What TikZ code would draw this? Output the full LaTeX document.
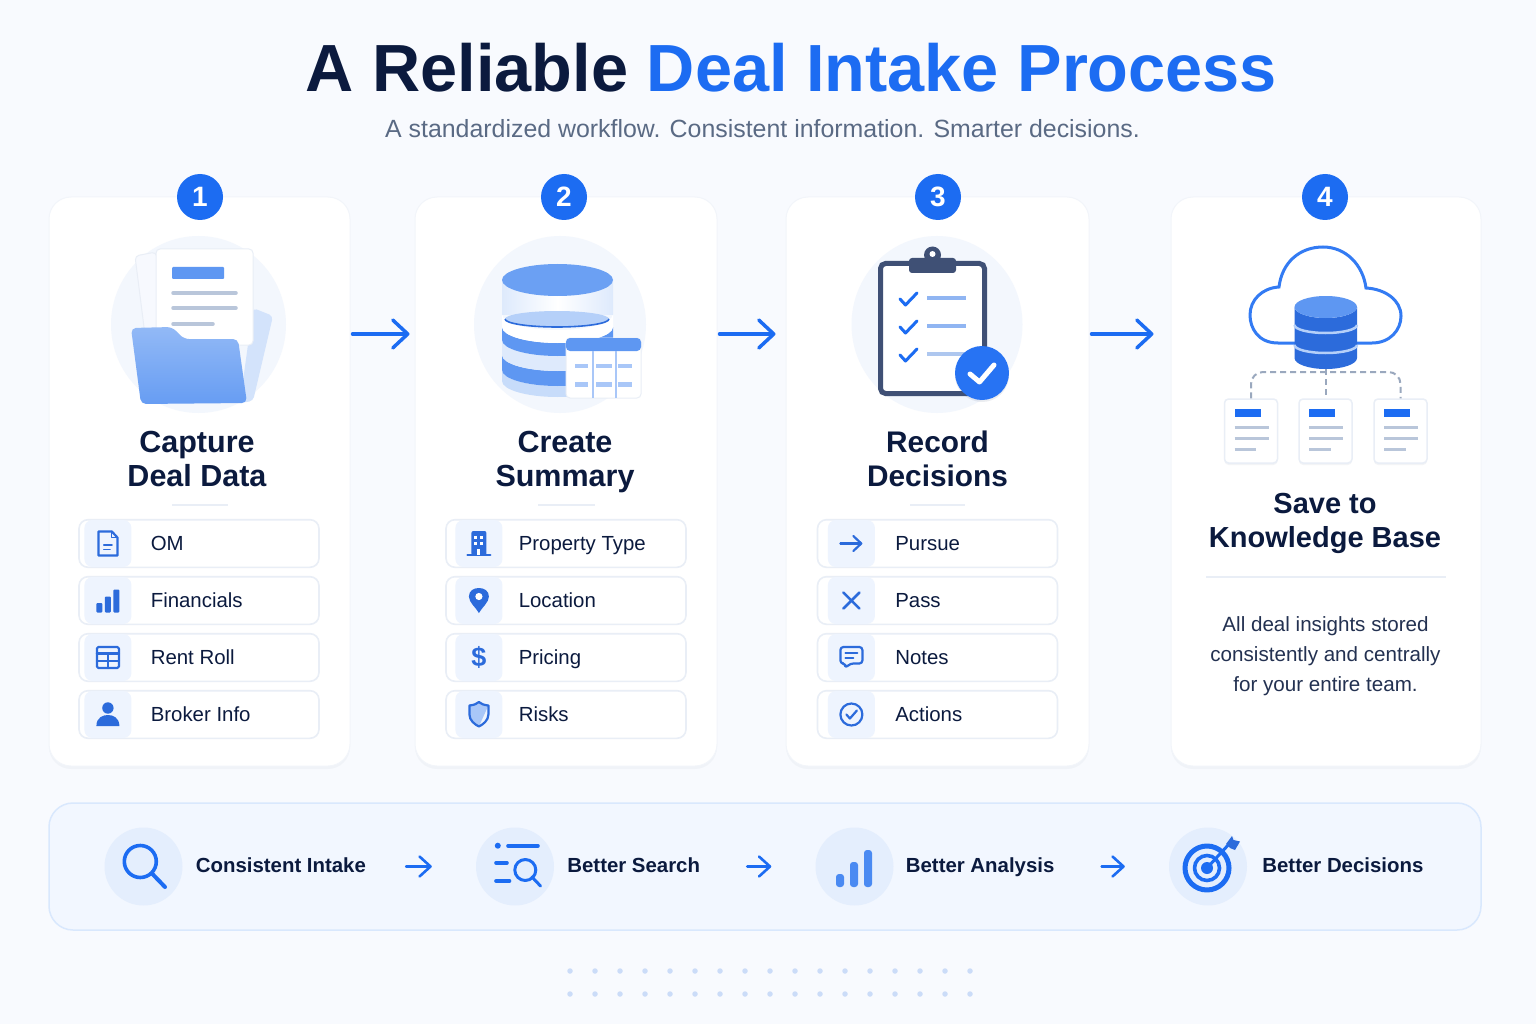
\documentclass[tikz,border=0pt]{standalone}
\usepackage{fontspec}
\setmainfont{Liberation Sans}
\usetikzlibrary{arrows.meta,positioning,shadows,shapes.geometric}

\definecolor{pagebg}{HTML}{F8FAFE}
\definecolor{ink}{HTML}{0B1A3E}
\definecolor{accent}{HTML}{1C6CF2}
\definecolor{subtle}{HTML}{5A6A84}
\definecolor{edgegrey}{HTML}{E9EEF6}
\definecolor{chipblue}{HTML}{EEF4FE}
\definecolor{hubblue}{HTML}{F3F7FD}
\definecolor{iconblue}{HTML}{2C6BDB}
\definecolor{midblue}{HTML}{5E97F2}
\definecolor{paleblue}{HTML}{B5D0F9}
\definecolor{barblue}{HTML}{A9C7F8}
\definecolor{linegrey}{HTML}{B9C6DA}
\definecolor{slate}{HTML}{3F5075}
\definecolor{dashgrey}{HTML}{9AA8BE}
\definecolor{panelfill}{HTML}{F2F7FF}
\definecolor{paneledge}{HTML}{D9E8FD}
\definecolor{spot}{HTML}{CBDCF8}

\tikzstyle{card} = [rectangle, rounded corners=22pt, draw=edgegrey!60!white, line width=1pt, fill=white, inner sep=0pt, minimum height=569pt, drop shadow={shadow xshift=0pt, shadow yshift=-3pt, opacity=.04, fill=slate}]
\tikzstyle{badge} = [circle, fill=accent, text=white, inner sep=0pt, minimum size=46pt, font=\fontsize{28}{28}\selectfont\bfseries]
\tikzstyle{hub} = [ellipse, fill=hubblue, inner sep=0pt, minimum height=177pt]
\tikzstyle{steptitle} = [text=ink, align=center, inner sep=0pt, font=\fontsize{30.5}{34}\selectfont\bfseries]
\tikzstyle{rowbox} = [rectangle, rounded corners=9pt, draw=edgegrey, line width=1.6pt, fill=white, inner sep=0pt, minimum width=240pt, minimum height=47.6pt]
\tikzstyle{chip} = [rectangle, rounded corners=8pt, fill=chipblue, inner sep=0pt, minimum width=47pt, minimum height=47pt]
\tikzstyle{rowtext} = [text=ink, inner sep=0pt, text height=18pt, text depth=4pt, font=\fontsize{20.4}{24}\selectfont]
\tikzstyle{rule} = [draw=edgegrey, line width=1.5pt]
\tikzstyle{arrow} = [draw=accent, line width=3.5pt, line cap=round, -{Straight Barb[length=15pt, width=28pt, round]}]
\tikzstyle{smallarrow} = [draw=accent, line width=2.6pt, line cap=round, -{Straight Barb[length=11pt, width=20pt, round]}]
\tikzstyle{panelhub} = [circle, fill=chipblue!90!accent!70, inner sep=0pt, minimum size=78pt]
\tikzstyle{paneltext} = [text=ink, inner sep=0pt, anchor=west, text height=15pt, text depth=4pt, font=\fontsize{20.4}{24}\selectfont\bfseries]
\tikzstyle{icon} = [draw=iconblue, line width=2.2pt, line cap=round, line join=round]
\tikzstyle{iconfill} = [fill=iconblue]
\tikzstyle{glyph} = [draw=accent, line width=3.6pt, line cap=round, line join=round]
\tikzstyle{tick} = [draw=accent, line width=3pt, line cap=round, line join=round]
\tikzstyle{greybar} = [draw=linegrey, line width=3.5pt, line cap=round]
\tikzstyle{rim} = [x radius=55.5pt, y radius=16pt]
\tikzstyle{sheet} = [rectangle, rounded corners=4pt, draw=edgegrey, line width=1.5pt, fill=white, inner sep=0pt, minimum width=53pt, minimum height=64pt, drop shadow={shadow xshift=0pt, shadow yshift=-2pt, opacity=.06, fill=slate}]
\tikzstyle{link} = [draw=dashgrey, line width=2pt, dash pattern=on 6pt off 4pt, rounded corners=12pt]
\tikzstyle{gridspot} = [circle, fill=spot, inner sep=0pt, minimum size=5.5pt]

\begin{document}
\begin{tikzpicture}[x=1pt, y=-1pt]
  \useasboundingbox (0,0) rectangle (1536,1024);
  \fill [pagebg] (0,0) rectangle (1536,1024);

  \node (headline) [text=ink, inner sep=0pt, font=\fontsize{66.7}{70}\selectfont\bfseries] at (791.5,68) {A Reliable \textcolor{accent}{Deal Intake Process}};
  \node (tagline) [text=subtle, inner sep=0pt, font=\fontsize{24.9}{28}\selectfont] at (762.5,129) {A standardized workflow. Consistent information. Smarter decisions.};

  \node (card1) [card, minimum width=301pt] at (199.5,481.5) {};
  \node (card2) [card, minimum width=302pt] at (566,481.5) {};
  \node (card3) [card, minimum width=303pt] at (937.5,481.5) {};
  \node (card4) [card, minimum width=310pt] at (1326,481.5) {};

  \node (badge1) [badge] at (200,197) {1};
  \node (badge2) [badge] at (564,197) {2};
  \node (badge3) [badge] at (938,197) {3};
  \node (badge4) [badge] at (1325,197) {4};

  \draw [arrow, shorten <=2pt, shorten >=5pt] ([yshift=147.5pt]card1.east) -- ([yshift=147.5pt]card2.west);
  \draw [arrow, shorten <=2pt, shorten >=10pt] ([yshift=147.5pt]card2.east) -- ([yshift=147.5pt]card3.west);
  \draw [arrow, shorten <=2pt, shorten >=17pt] ([yshift=147.5pt]card3.east) -- ([yshift=147.5pt]card4.west);

  % folder picture
  \node (hub1) [hub, minimum width=175pt] at (198.5,324.5) {};
  \draw [fill=hubblue!70!white, draw=edgegrey, line width=1pt, rounded corners=4pt] (135,256) -- (156,252) -- (170,330) -- (145,335) -- cycle;
  \fill [paleblue!60!white, rounded corners=4pt] (253,308) -- (273,316) -- (253,401) -- (240,403) -- cycle;
  \draw [fill=white, draw=edgegrey, line width=1pt, rounded corners=4pt] (156,249) rectangle (253,345);
  \fill [midblue, rounded corners=1pt] (172,267) rectangle (224,279);
  \draw [greybar] (173,293) -- (236,293);
  \draw [greybar] (173,308) -- (236,308);
  \draw [greybar] (173,324) -- (213,324);
  \shade [top color=paleblue!60!midblue, bottom color=midblue!90!paleblue, rounded corners=5pt] (131,328) -- (172,327) -- (184,339) -- (238,339) -- (247,403) -- (141,404) -- cycle;

  % database picture
  \node (hub2) [hub, minimum width=172pt] at (560,324.5) {};
  \fill [paleblue!75!white] (502,370) arc [rim, start angle=180, end angle=360] -- (613,381) arc [rim, start angle=0, end angle=-180] -- cycle;
  \fill [midblue] (502,355) arc [rim, start angle=180, end angle=360] -- (613,370) arc [rim, start angle=0, end angle=-180] -- cycle;
  \fill [paleblue!45!white] (502,340) arc [rim, start angle=180, end angle=360] -- (613,355) arc [rim, start angle=0, end angle=-180] -- cycle;
  \fill [midblue] (502,327) arc [rim, start angle=180, end angle=360] -- (613,340) arc [rim, start angle=0, end angle=-180] -- cycle;
  \fill [white] (502,314) arc [rim, start angle=180, end angle=360] -- (613,327) arc [rim, start angle=0, end angle=-180] -- cycle;
  \shade [left color=paleblue!45!white, right color=paleblue!45!white, middle color=white] (502,280) rectangle (613,314);
  \fill [paleblue] (505,319) arc [start angle=180, end angle=540, x radius=52pt, y radius=8pt];
  \draw [iconblue, line width=1.6pt] (505,319) arc [start angle=180, end angle=360, x radius=52pt, y radius=8pt];
  \fill [midblue!85!paleblue] (502,280) arc [rim, start angle=180, end angle=540];
  \draw [fill=white, draw=edgegrey, line width=1pt, rounded corners=4pt] (566,338) rectangle (641,398);
  \fill [midblue, rounded corners=4pt] (566,338) rectangle (641,351);
  \draw [barblue, line width=1.6pt] (593,351) -- (593,398);
  \draw [barblue, line width=1.6pt] (616,351) -- (616,398);
  \draw [barblue, line width=4pt] (575,366) -- (588,366);
  \draw [barblue, line width=4pt] (596,366) -- (612,366);
  \draw [barblue, line width=4pt] (618,366) -- (632,366);
  \draw [barblue, line width=5pt] (575,384) -- (588,384);
  \draw [barblue, line width=5pt] (596,384) -- (612,384);
  \draw [barblue, line width=5pt] (618,384) -- (632,384);

  % clipboard picture
  \node (hub3) [hub, minimum width=171pt] at (937,324.5) {};
  \draw [fill=white, draw=slate, line width=5pt, rounded corners=5pt] (880.5,263.5) rectangle (984.5,393.5);
  \fill [slate] (932.5,255) circle [radius=8.5pt];
  \fill [slate, rounded corners=3pt] (909,258) rectangle (956,273);
  \fill [white] (932.5,254) circle [radius=3pt];
  \draw [tick] (900,299) -- (905.5,305) -- (917,293);
  \draw [tick] (900,327) -- (905.5,333) -- (917,321);
  \draw [tick] (900,355) -- (905.5,361) -- (917,349);
  \draw [barblue!80!iconblue, line width=3.5pt] (927,298) -- (966,298);
  \draw [barblue!80!iconblue, line width=3.5pt] (927,326) -- (966,326);
  \draw [barblue!70!linegrey, line width=3.5pt] (927,354) -- (966,354);
  \node (okmark) [circle, fill=accent!95!white, inner sep=0pt, minimum size=54pt, drop shadow={shadow xshift=0pt, shadow yshift=-2pt, opacity=.1, fill=slate}] at (982,373) {};
  \draw [white, line width=5pt, line cap=round, line join=round] (970,374) -- (979.5,382) -- (994,365);

  % cloud picture
  \draw [draw=accent!90!white, line width=3pt, line cap=round] (1295,343) -- (1278,343) .. controls (1258,343) and (1250,328) .. (1250,315) .. controls (1250,300) and (1262,288) .. (1279,287) .. controls (1282,262) and (1300,247) .. (1323,247) .. controls (1346,247) and (1363,265) .. (1366,288) .. controls (1385,289) and (1401,300) .. (1401,316) .. controls (1401,330) and (1390,343) .. (1372,343) -- (1356,343);
  \fill [iconblue] (1294.5,307) arc [start angle=180, end angle=360, x radius=31.25pt, y radius=11pt] -- (1357,358) arc [start angle=0, end angle=180, x radius=31.25pt, y radius=-11pt] -- cycle;
  \fill [midblue] (1294.5,307) arc [start angle=180, end angle=540, x radius=31.25pt, y radius=11pt];
  \draw [paleblue, line width=2.5pt] (1294.5,325) arc [start angle=180, end angle=360, x radius=31.25pt, y radius=8pt];
  \draw [paleblue, line width=2.5pt] (1294.5,345) arc [start angle=180, end angle=360, x radius=31.25pt, y radius=8pt];
  \coordinate (dbfoot) at (1325.5,369);
  \coordinate (kbhub) at (1325.5,372);
  \node (kbdoc1) [sheet] at (1251,431) {};
  \node (kbdoc2) [sheet] at (1325.5,431) {};
  \node (kbdoc3) [sheet] at (1400.5,431) {};
  \draw [link] (kbdoc1.north) |- (kbhub) -| (kbdoc3.north);
  \draw [link] (dbfoot) -- (kbdoc2.north);
  \foreach \doc in {kbdoc1,kbdoc2,kbdoc3} {
    \begin{scope}[shift={(\doc)}]
      \fill [accent] (-16.5,-22) rectangle (9.5,-14);
      \draw [linegrey, line width=3pt] (-16.5,-4) -- (17.5,-4);
      \draw [linegrey, line width=3pt] (-16.5,7) -- (17.5,7);
      \draw [linegrey, line width=3pt] (-16.5,18) -- (5,18);
    \end{scope}
  }

  \node (title1) [steptitle] at (197,459) {Capture\\Deal Data};
  \node (title2) [steptitle] at (565,462.5) {Create\\Summary};
  \node (title3) [steptitle, font=\fontsize{29.8}{34}\selectfont\bfseries] at (937.5,459) {Record\\Decisions};
  \node (title4) [steptitle, font=\fontsize{29}{34}\selectfont\bfseries] at (1325,523) {Save to\\Knowledge Base};

  \draw [rule] (172,505) -- (228,505);
  \draw [rule] (538,505) -- (595,505);
  \draw [rule] (910,505) -- (965,505);
  \draw [rule] (1206,577) -- (1446,577);

  \node (kbnote) [text=ink!90!white, align=center, inner sep=0pt, font=\fontsize{20.6}{30}\selectfont] at (1325.5,656) {All deal insights stored\\consistently and centrally\\for your entire team.};

  % rows of card 1
  \node (omrow) [rowbox] at (199,543.5) {};
  \node (finrow) [rowbox, below=7.8pt of omrow] {};
  \node (rentrow) [rowbox, below=7.8pt of finrow] {};
  \node (brokerrow) [rowbox, below=7.8pt of rentrow] {};
  \node (omchip) [chip, right=6pt of omrow.west] {};
  \node (finchip) [chip, right=6pt of finrow.west] {};
  \node (rentchip) [chip, right=6pt of rentrow.west] {};
  \node (brokerchip) [chip, right=6pt of brokerrow.west] {};
  \node (omtext) [rowtext, right=19pt of omchip] {OM};
  \node (fintext) [rowtext, right=19pt of finchip] {Financials};
  \node (renttext) [rowtext, right=19pt of rentchip] {Rent Roll};
  \node (brokertext) [rowtext, right=19pt of brokerchip] {Broker Info};

  % rows of card 2
  \node (typerow) [rowbox] at (566,543.5) {};
  \node (locrow) [rowbox, below=7.8pt of typerow] {};
  \node (pricerow) [rowbox, below=7.8pt of locrow] {};
  \node (riskrow) [rowbox, below=7.8pt of pricerow] {};
  \node (typechip) [chip, right=10pt of typerow.west] {};
  \node (locchip) [chip, right=10pt of locrow.west] {};
  \node (pricechip) [chip, right=10pt of pricerow.west] {};
  \node (riskchip) [chip, right=10pt of riskrow.west] {};
  \node (typetext) [rowtext, right=16pt of typechip] {Property Type};
  \node (loctext) [rowtext, right=16pt of locchip] {Location};
  \node (pricetext) [rowtext, right=16pt of pricechip] {Pricing};
  \node (risktext) [rowtext, right=16pt of riskchip] {Risks};

  % rows of card 3
  \node (pursuerow) [rowbox, minimum width=240pt] at (937.5,543.5) {};
  \node (passrow) [rowbox, minimum width=240pt, below=7.8pt of pursuerow] {};
  \node (notesrow) [rowbox, minimum width=240pt, below=7.8pt of passrow] {};
  \node (actionrow) [rowbox, minimum width=240pt, below=7.8pt of notesrow] {};
  \node (pursuechip) [chip, right=11pt of pursuerow.west] {};
  \node (passchip) [chip, right=11pt of passrow.west] {};
  \node (noteschip) [chip, right=11pt of notesrow.west] {};
  \node (actionchip) [chip, right=11pt of actionrow.west] {};
  \node (pursuetext) [rowtext, right=20pt of pursuechip] {Pursue};
  \node (passtext) [rowtext, right=20pt of passchip] {Pass};
  \node (notestext) [rowtext, right=20pt of noteschip] {Notes};
  \node (actiontext) [rowtext, right=20pt of actionchip] {Actions};

  % row icons
  \begin{scope}[shift={(omchip)}]
    \draw [icon] (-9.5,-12) -- (4,-12) -- (9.5,-6) -- (9.5,12) -- (-9.5,12) -- cycle;
    \draw [icon, line width=1.8pt] (3.5,-12) -- (3.5,-6) -- (9.5,-6);
    \draw [icon, line width=1.8pt] (-4,1.5) -- (4,1.5);
    \draw [icon, line width=1.8pt] (-4,6) -- (2,6);
  \end{scope}
  \begin{scope}[shift={(finchip)}]
    \fill [iconfill, rounded corners=1pt] (-11.5,2.5) rectangle (-5.5,12);
    \fill [iconfill, rounded corners=1pt] (-3,-4) rectangle (3,12);
    \fill [iconfill, rounded corners=1pt] (5.5,-11) rectangle (11.5,12);
  \end{scope}
  \begin{scope}[shift={(rentchip)}]
    \draw [icon, rounded corners=1.5pt] (-11,-10.5) rectangle (11,10.5);
    \draw [icon] (-11,-4) -- (11,-4);
    \draw [icon] (-11,3.5) -- (11,3.5);
    \draw [icon] (0,-4) -- (0,10.5);
  \end{scope}
  \begin{scope}[shift={(brokerchip)}]
    \fill [iconfill] (0,-6.5) circle [radius=5.7pt];
    \fill [iconfill] (-11.5,11.5) .. controls (-11.5,3) and (-5,0.5) .. (0,0.5) .. controls (5,0.5) and (11.5,3) .. (11.5,11.5) -- cycle;
  \end{scope}
  \begin{scope}[shift={(typechip)}]
    \fill [iconfill, rounded corners=2pt] (-7.5,-12.5) rectangle (7.5,12);
    \draw [icon] (-11.5,11.5) -- (11.5,11.5);
    \fill [white] (-4.5,-8) rectangle (-1.5,-5);
    \fill [white] (1.5,-8) rectangle (4.5,-5);
    \fill [white] (-4.5,-1.5) rectangle (-1.5,1.5);
    \fill [white] (1.5,-1.5) rectangle (4.5,1.5);
    \fill [white] (-1.5,5) rectangle (1.5,11);
  \end{scope}
  \begin{scope}[shift={(locchip)}]
    \fill [iconfill] (0,12.5) .. controls (-3,7) and (-10,2) .. (-10,-4) .. controls (-10,-9.5) and (-5.5,-12.5) .. (0,-12.5) .. controls (5.5,-12.5) and (10,-9.5) .. (10,-4) .. controls (10,2) and (3,7) .. (0,12.5) -- cycle;
    \fill [white] (0,-4) circle [radius=3.6pt];
  \end{scope}
  \node (dollar) [text=iconblue, inner sep=0pt, font=\fontsize{27}{28}\selectfont\bfseries] at (pricechip) {\$};
  \begin{scope}[shift={(riskchip)}]
    \fill [barblue] (0,-12) .. controls (-2,-10.5) and (-5,-9.5) .. (-9.5,-9) -- (-9.5,0) .. controls (-9.5,6) and (-4,10) .. (0,12) -- (9,-8) .. controls (5,-9.5) and (2,-10.5) .. (0,-12);
    \draw [icon] (0,-12.5) .. controls (2,-10.5) and (5,-9.5) .. (9.5,-9) -- (9.5,0) .. controls (9.5,6) and (4,10) .. (0,12) .. controls (-4,10) and (-9.5,6) .. (-9.5,0) -- (-9.5,-9) .. controls (-5,-9.5) and (-2,-10.5) .. (0,-12.5) -- cycle;
  \end{scope}
  \begin{scope}[shift={(pursuechip)}]
    \draw [icon, -{Straight Barb[length=8pt, width=15pt, round]}] (-11,0) -- (11,0);
  \end{scope}
  \begin{scope}[shift={(passchip)}]
    \draw [icon, line width=2.6pt] (-8,-8) -- (8,8);
    \draw [icon, line width=2.6pt] (-8,8) -- (8,-8);
  \end{scope}
  \begin{scope}[shift={(noteschip)}]
    \draw [icon, rounded corners=3pt] (-11,-10.5) -- (11,-10.5) -- (11,6) -- (-1,6) -- (-6,10.5) -- (-6,6) -- (-11,6) -- cycle;
    \draw [icon, line width=1.8pt] (-6,-4.5) -- (6,-4.5);
    \draw [icon, line width=1.8pt] (-6,0.5) -- (2,0.5);
  \end{scope}
  \begin{scope}[shift={(actionchip)}]
    \draw [icon] (0,0) circle [radius=11pt];
    \draw [icon] (-5,0) -- (-1.5,4) -- (5.5,-4);
  \end{scope}

  % bottom band
  \node (band) [rectangle, rounded corners=24pt, draw=paneledge, line width=1.5pt, fill=panelfill, inner sep=0pt, minimum width=1432pt, minimum height=127pt] at (765,866.5) {};
  \node (bandhub1) [panelhub] at (143.5,866.5) {};
  \node (bandhub2) [panelhub] at (515,866.5) {};
  \node (bandhub3) [panelhub] at (854.5,866.5) {};
  \node (bandhub4) [panelhub] at (1208,866.5) {};
  \node (bandtext1) [paneltext, right=13pt of bandhub1] {Consistent Intake};
  \node (bandtext2) [paneltext, right=13pt of bandhub2] {Better Search};
  \node (bandtext3) [paneltext, right=12pt of bandhub3] {Better Analysis};
  \node (bandtext4) [paneltext, right=15pt of bandhub4] {Better Decisions};
  \draw [smallarrow, shorten <=40pt, shorten >=44pt] (bandtext1) -- (bandhub2);
  \draw [smallarrow, shorten <=47pt, shorten >=44pt] (bandtext2) -- (bandhub3);
  \draw [smallarrow, shorten <=47pt, shorten >=44pt] (bandtext3) -- (bandhub4);

  % band icons
  \draw [glyph] (140.3,861.5) circle [radius=16pt];
  \draw [glyph, line width=4pt] (152,873.5) -- (165,887);
  \fill [accent] (497.8,845.7) circle [radius=3pt];
  \draw [glyph] (508,845.7) -- (538,845.7);
  \draw [glyph] (496,862.7) -- (507,862.7);
  \draw [glyph] (496,881) -- (509.5,881);
  \draw [glyph, line width=3pt] (525.3,870) circle [radius=10.5pt];
  \draw [glyph, line width=3pt] (532,877) -- (540.5,886);
  \fill [midblue!70!accent, rounded corners=3pt] (836,874) rectangle (844,887);
  \fill [midblue!70!accent, rounded corners=3pt] (850,862) rectangle (858,887);
  \fill [midblue!70!accent, rounded corners=3pt] (864,850) rectangle (872,887);
  \draw [glyph, line width=5pt] (1207,868) circle [radius=22pt];
  \draw [glyph] (1207,868) circle [radius=12.5pt];
  \fill [accent] (1207,868) circle [radius=6pt];
  \draw [glyph, line width=3pt] (1207,868) -- (1230,843);
  \fill [iconblue] (1226,844) -- (1232,836) -- (1233.5,840) -- (1240,841.5) -- (1235,850) -- (1230,848) -- cycle;

  \foreach \x in {570,595,...,970} {
    \node (spota\x) [gridspot] at (\x,971) {};
    \node (spotb\x) [gridspot] at (\x,994) {};
  }
\end{tikzpicture}
\end{document}
